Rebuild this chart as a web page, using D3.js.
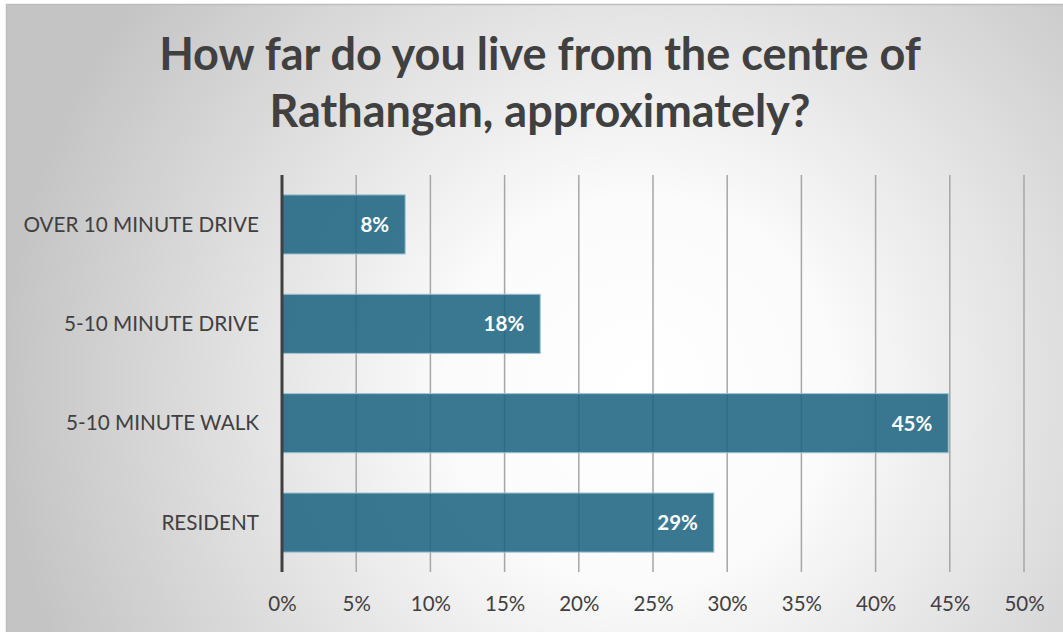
<!DOCTYPE html>
<html>
<head>
<meta charset="utf-8">
<script src="https://cdn.jsdelivr.net/npm/d3@7"></script>
<style>
html,body{margin:0;padding:0;background:#fff;}
svg{display:block;}
</style>
</head>
<body>
<svg id="chart" width="1063" height="632"></svg>
<script>
const titleLines = ["How far do you live from the centre of", "Rathangan, approximately?"];
const categories = ["OVER 10 MINUTE DRIVE", "5-10 MINUTE DRIVE", "5-10 MINUTE WALK", "RESIDENT"];
const values = [0.083, 0.174, 0.449, 0.291];
const valueLabels = ["8%", "18%", "45%", "29%"];
const tickValues = [0, 0.05, 0.10, 0.15, 0.20, 0.25, 0.30, 0.35, 0.40, 0.45, 0.50];

const W = 1063, H = 632;
const svg = d3.select("#chart");
const defs = svg.append("defs");
const rg = defs.append("radialGradient").attr("id", "bg")
  .attr("gradientUnits", "userSpaceOnUse")
  .attr("cx", 640).attr("cy", 390).attr("r", 640);
rg.append("stop").attr("offset", "0%").attr("stop-color", "#ffffff");
rg.append("stop").attr("offset", "30%").attr("stop-color", "#fbfbfb");
rg.append("stop").attr("offset", "100%").attr("stop-color", "#c4c4c4");

svg.append("rect").attr("x", 6.5).attr("y", 4.5).attr("width", W + 10).attr("height", H + 10)
  .attr("fill", "url(#bg)").attr("stroke", "#bdbdbd").attr("stroke-width", 1.5);

const margin = {left: 282, right: 1063 - 1024, top: 175, bottom: 632 - 572};
const x = d3.scaleLinear().domain([0, 0.5]).range([margin.left, 1024]);
const y = d3.scaleBand().domain(categories).range([margin.top, 572]).paddingInner(0.405).paddingOuter(0.2);

const font = "Lato, 'Open Sans', sans-serif";

// title
svg.append("g").selectAll("text").data(titleLines).join("text")
  .attr("x", 540).attr("y", (d, i) => 70 + i * 57)
  .attr("text-anchor", "middle")
  .attr("font-family", font).attr("font-weight", 700).attr("font-size", 45)
  .attr("fill", "#404040").text(d => d);

// gridlines
svg.append("g").selectAll("line").data(tickValues.slice(1)).join("line")
  .attr("x1", d => x(d)).attr("x2", d => x(d))
  .attr("y1", margin.top).attr("y2", 572)
  .attr("stroke", "#a6a6a6").attr("stroke-width", 1.5);

// bars
svg.append("g").selectAll("rect").data(values).join("rect")
  .attr("x", x(0)).attr("y", (d, i) => y(categories[i]))
  .attr("width", d => x(d) - x(0)).attr("height", y.bandwidth())
  .attr("fill", "#1f6583").attr("fill-opacity", 0.88)
  .attr("stroke", "#9cc3d3").attr("stroke-width", 1);

// value labels
svg.append("g").selectAll("text").data(values).join("text")
  .attr("x", d => x(d) - 16)
  .attr("y", (d, i) => y(categories[i]) + y.bandwidth() / 2 + 7.5)
  .attr("text-anchor", "end")
  .attr("font-family", font).attr("font-weight", 700).attr("font-size", 20.5)
  .attr("fill", "#ffffff").text((d, i) => valueLabels[i]);

// y axis labels
const yAxis = d3.axisLeft(y).tickSize(0).tickPadding(23);
const ya = svg.append("g").attr("transform", `translate(${x(0)},0)`).call(yAxis);
ya.select(".domain").remove();
ya.selectAll("text").attr("font-family", font).attr("font-size", 20.7).attr("fill", "#404040")
  .attr("dy", "0.35em");

// x axis labels
const xAxis = d3.axisBottom(x).tickValues(tickValues).tickFormat(d3.format(".0%")).tickSize(0).tickPadding(0);
const xa = svg.append("g").attr("transform", `translate(0,${572})`).call(xAxis);
xa.select(".domain").remove();
xa.selectAll("text").attr("font-family", font).attr("font-size", 20.5).attr("fill", "#404040")
  .attr("dy", 0).attr("y", 39);

// vertical axis line
svg.append("line").attr("x1", x(0)).attr("x2", x(0)).attr("y1", margin.top).attr("y2", 572)
  .attr("stroke", "#404040").attr("stroke-width", 3);
</script>
</body>
</html>
